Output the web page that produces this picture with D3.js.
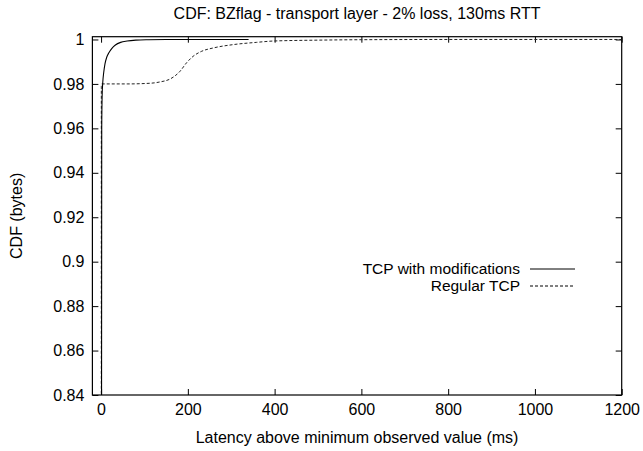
<!DOCTYPE html>
<html><head><meta charset="utf-8">
<script src="https://cdn.jsdelivr.net/npm/d3@7"></script>
<style>
body{margin:0;background:#fff;}
text{font-family:"Liberation Sans",Arial,Helvetica,sans-serif;fill:#000;}
</style></head>
<body><svg id="c" width="643" height="451"></svg>
<script>
const title = "CDF: BZflag - transport layer - 2% loss, 130ms RTT";
const xLabel = "Latency above minimum observed value (ms)";
const yLabel = "CDF (bytes)";
const xTicks = [0, 200, 400, 600, 800, 1000, 1200];
const yTicks = [0.84, 0.86, 0.88, 0.9, 0.92, 0.94, 0.96, 0.98, 1];
const seriesNames = ["TCP with modifications", "Regular TCP"];
// TCP with modifications (latency ms, CDF)
const modX = [1, 1.5, 2.5, 4, 6, 9, 13, 18, 25, 33, 45, 60, 80, 110, 150, 340];
const modY = [0.80, 0.96, 0.975, 0.981, 0.985, 0.989, 0.992, 0.994, 0.996, 0.9975, 0.9987, 0.9993, 0.9997, 0.9999, 1.0, 1.0];
// Regular TCP
const regX = [0.5, 0.6, 1.5, 60, 113, 136, 159, 182, 197, 212, 232, 259, 305, 358, 397, 500, 605, 800, 1200];
const regY = [0.80, 0.979, 0.98, 0.98, 0.9803, 0.9809, 0.9822, 0.9857, 0.9895, 0.9924, 0.9947, 0.9962, 0.9977, 0.9987, 0.9993, 0.9997, 0.9999, 1.0, 1.0];

const FS = 16;
const svg = d3.select("#c");
const L = 92.4, R = 621.7, T = 36.7, B = 395;
const x = d3.scaleLinear().domain([-20, 1200]).range([L, R]);
const y = d3.scaleLinear().domain([0.84, 1.00125]).range([B, T]);

svg.append("defs").append("clipPath").attr("id","clip")
  .append("rect").attr("x",L).attr("y",T).attr("width",R-L).attr("height",B-T);

const fmtY = d => (d === 1 ? "1" : String(+d.toFixed(2)));
const gb = svg.append("g").attr("transform",`translate(0,${B})`)
  .call(d3.axisBottom(x).tickValues(xTicks).tickSize(-6).tickPadding(10).tickFormat(d3.format("d")));
const gt = svg.append("g").attr("transform",`translate(0,${T})`)
  .call(d3.axisTop(x).tickValues(xTicks).tickSize(-6).tickFormat(""));
const gl = svg.append("g").attr("transform",`translate(${L},0)`)
  .call(d3.axisLeft(y).tickValues(yTicks).tickSize(-6).tickPadding(8).tickFormat(fmtY));
const gr = svg.append("g").attr("transform",`translate(${R},0)`)
  .call(d3.axisRight(y).tickValues(yTicks).tickSize(-6).tickFormat(""));
[gb,gt,gl,gr].forEach(g=>{
  g.select(".domain").remove();
  g.selectAll(".tick line").attr("stroke","#000").attr("stroke-width",1);
  g.selectAll("text").attr("font-size",FS).attr("font-family","Liberation Sans, Arial, sans-serif").attr("fill","#000");
});
gb.selectAll(".tick text").attr("dy","0.6em");

svg.append("rect").attr("x",L).attr("y",T).attr("width",R-L).attr("height",B-T)
  .attr("fill","none").attr("stroke","#000").attr("stroke-width",1.2);

const line = d3.line().curve(d3.curveMonotoneX).x(d=>x(d[0])).y(d=>y(d[1]));
const modData = modX.map((v,i)=>[v, modY[i]]);
const regData = regX.map((v,i)=>[v, regY[i]]);
const plot = svg.append("g").attr("clip-path","url(#clip)");
plot.append("path").datum(regData).attr("d",line).attr("fill","none")
  .attr("stroke","#222").attr("stroke-width",1).attr("stroke-dasharray","3,2");
plot.append("path").datum(modData).attr("d",line).attr("fill","none")
  .attr("stroke","#000").attr("stroke-width",1.1);

const leg = [{n:seriesNames[0], dash:null, yy:269},{n:seriesNames[1], dash:"3,2", yy:286}];
leg.forEach(l=>{
  svg.append("text").attr("x",520).attr("y",l.yy).attr("dy","0.35em").attr("text-anchor","end")
    .attr("font-size",15.5).text(l.n);
  svg.append("line").attr("x1",530).attr("x2",575).attr("y1",l.yy).attr("y2",l.yy)
    .attr("stroke","#000").attr("stroke-width",1).attr("stroke-dasharray",l.dash);
});

svg.append("text").attr("x",(L+R)/2).attr("y",13).attr("dy","0.35em").attr("text-anchor","middle")
  .attr("font-size",FS).text(title);
svg.append("text").attr("x",(L+R)/2).attr("y",437).attr("dy","0.35em").attr("text-anchor","middle")
  .attr("font-size",FS).text(xLabel);
svg.append("text").attr("transform",`translate(16,${(T+B)/2}) rotate(-90)`).attr("dy","0.35em")
  .attr("text-anchor","middle").attr("font-size",FS).text(yLabel);
</script></body></html>
